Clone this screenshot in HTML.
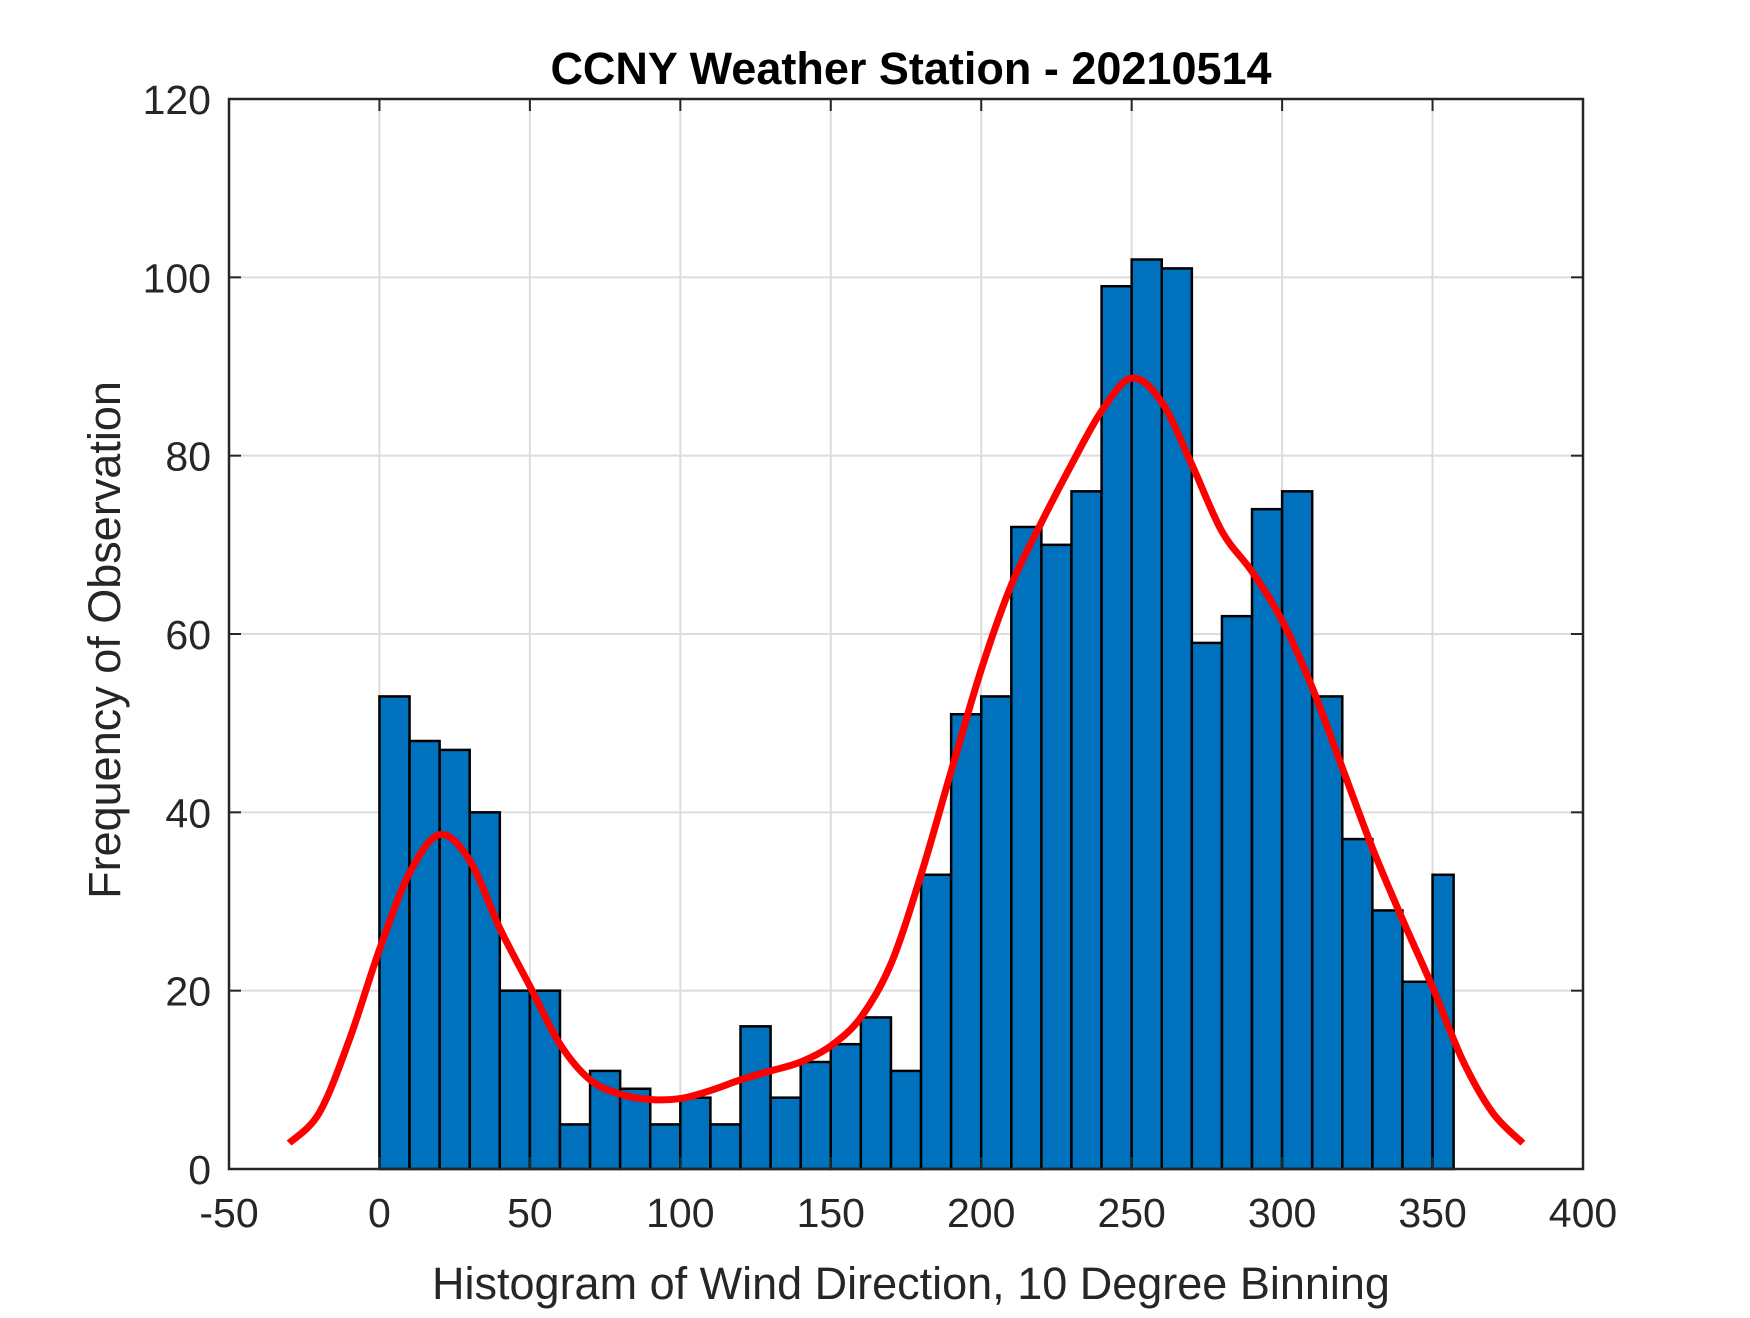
<!DOCTYPE html>
<html><head><meta charset="utf-8"><style>
body{margin:0;background:#fff}
svg text{font-family:"Liberation Sans",sans-serif}
</style></head><body>
<svg id="chart" width="1750" height="1313" viewBox="0 0 1750 1313" xmlns="http://www.w3.org/2000/svg">
<rect width="1750" height="1313" fill="#fff"/>
<g id="grid"></g>
<g id="bars"></g>
<path id="curve" fill="none" stroke="#ff0000" stroke-width="7" stroke-linejoin="round" stroke-linecap="butt"/>
<rect x="229" y="99" width="1354" height="1070" fill="none" stroke="#262626" stroke-width="2.5"/>
<g id="ticks"></g>
<text x="911" y="84" text-anchor="middle" font-size="45" font-weight="bold" fill="#000">CCNY Weather Station - 20210514</text>
<text x="911" y="1299" text-anchor="middle" font-size="45" fill="#262626">Histogram of Wind Direction, 10 Degree Binning</text>
<text transform="translate(120,640) rotate(-90)" text-anchor="middle" font-size="45" fill="#262626">Frequency of Observation</text>
</svg>
<script>
const binEdgesLeft=[0,10,20,30,40,50,60,70,80,90,100,110,120,130,140,150,160,170,180,190,200,210,220,230,240,250,260,270,280,290,300,310,320,330,340,350];
const binWidths=[10,10,10,10,10,10,10,10,10,10,10,10,10,10,10,10,10,10,10,10,10,10,10,10,10,10,10,10,10,10,10,10,10,10,10,7];
const counts=[53,48,47,40,20,20,5,11,9,5,8,5,16,8,12,14,17,11,33,51,53,72,70,76,99,102,101,59,62,74,76,53,37,29,21,33];
const curveX=[-30,-20,-10,0,10,20,30,40,50,60,70,80,90,100,110,120,130,140,150,160,170,180,190,200,210,220,230,240,250,260,270,280,290,300,310,320,330,340,350,360,370,380];
const curveY=[2.9,6.3,14.5,24.6,33.2,37.5,34.6,27,20.5,14,10,8.4,7.8,7.9,8.8,10,11,12,13.8,17,23,33,44.6,56,65.5,72.5,79,85,88.7,86,79,71.5,67,61.5,54,45,36,28,20.4,12.2,6.3,2.9];
const xTicks=[-50,0,50,100,150,200,250,300,350,400];
const yTicks=[0,20,40,60,80,100,120];
const NS='http://www.w3.org/2000/svg';
const L=229,R=1583,T=99,B=1169,xmin=-50,xmax=400,ymin=0,ymax=120;
const sx=v=>L+(v-xmin)/(xmax-xmin)*(R-L);
const sy=v=>B-(v-ymin)/(ymax-ymin)*(B-T);
function mk(tag,attrs,parent){const e=document.createElementNS(NS,tag);for(const k in attrs)e.setAttribute(k,attrs[k]);parent.appendChild(e);return e;}
const grid=document.getElementById('grid'),bars=document.getElementById('bars'),ticks=document.getElementById('ticks');
xTicks.forEach(t=>{
  const g=mk('line',{x1:sx(t),x2:sx(t),y1:T,y2:B,stroke:'#dcdcdc','stroke-width':2},grid);
  
  
  const a=mk('line',{x1:sx(t),x2:sx(t),y1:B,y2:B-12,stroke:'#262626','stroke-width':2},ticks);
  
  
  const b=mk('line',{x1:sx(t),x2:sx(t),y1:T,y2:T+12,stroke:'#262626','stroke-width':2},ticks);
  
  
  const tx=mk('text',{x:sx(t),y:B+58,'text-anchor':'middle','font-size':41,fill:'#262626'},ticks);
  tx.textContent=t;
  
  
});
yTicks.forEach(t=>{
  const g=mk('line',{x1:L,x2:R,y1:sy(t),y2:sy(t),stroke:'#dcdcdc','stroke-width':2},grid);
  
  
  const a=mk('line',{x1:L,x2:L+12,y1:sy(t),y2:sy(t),stroke:'#262626','stroke-width':2},ticks);
  
  
  const b=mk('line',{x1:R,x2:R-12,y1:sy(t),y2:sy(t),stroke:'#262626','stroke-width':2},ticks);
  
  
  const tx=mk('text',{x:L-18,y:sy(t)+15,'text-anchor':'end','font-size':41,fill:'#262626'},ticks);
  tx.textContent=t;
  
  
});
counts.forEach((c,i)=>{
  const x0=sx(binEdgesLeft[i]),x1=sx(binEdgesLeft[i]+binWidths[i]);
  const r=mk('rect',{x:x0,y:sy(c),width:x1-x0,height:sy(0)-sy(c),fill:'#0072bd',stroke:'#000','stroke-width':2.5},bars);
  
  
});
const pts=curveX.map((x,i)=>[sx(x),sy(curveY[i])]);
let d='M'+pts[0][0]+','+pts[0][1];
for(let i=0;i<pts.length-1;i++){
  const p0=pts[Math.max(0,i-1)],p1=pts[i],p2=pts[i+1],p3=pts[Math.min(pts.length-1,i+2)];
  const c1=[p1[0]+(p2[0]-p0[0])/6,p1[1]+(p2[1]-p0[1])/6];
  const c2=[p2[0]-(p3[0]-p1[0])/6,p2[1]-(p3[1]-p1[1])/6];
  d+=' C'+c1[0]+','+c1[1]+' '+c2[0]+','+c2[1]+' '+p2[0]+','+p2[1];
}
document.getElementById('curve').setAttribute('d',d);
</script>
</body></html>
